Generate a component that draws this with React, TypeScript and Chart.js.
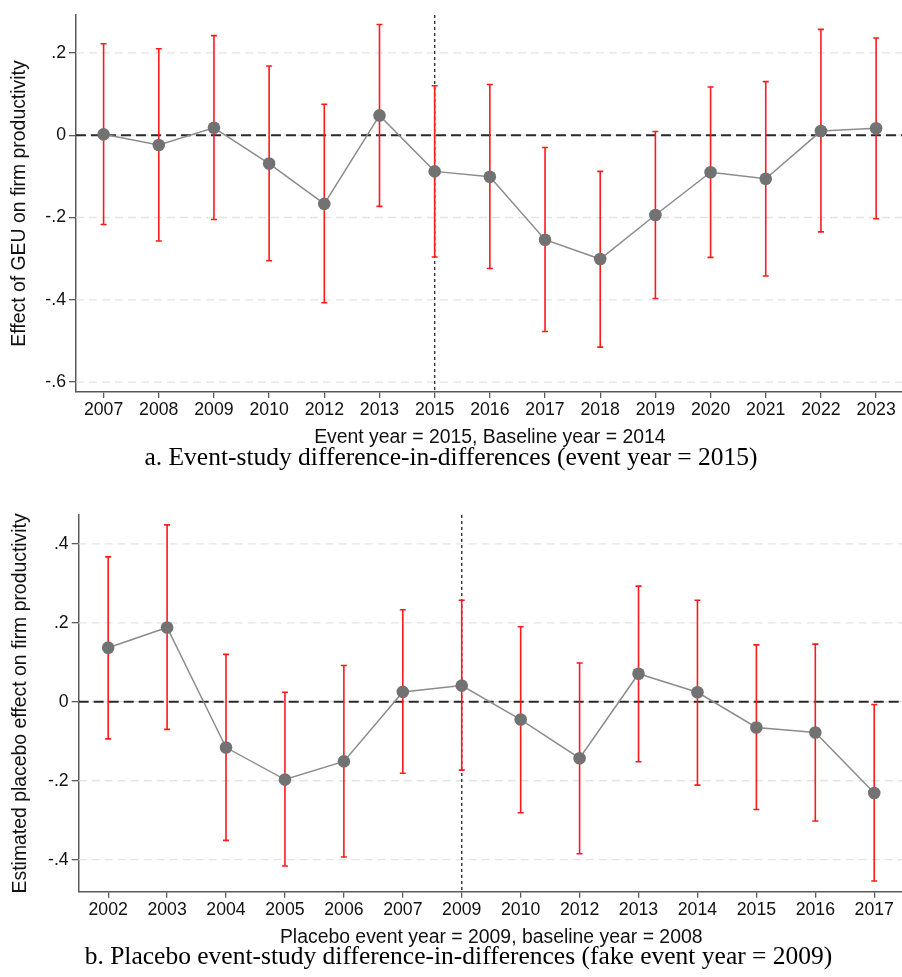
import { useEffect, useRef } from 'react';
import { Chart, registerables } from 'chart.js';

Chart.register(...registerables);

// ---------- Panel a: event study (event year = 2015) ----------
const yearsA = ['2007', '2008', '2009', '2010', '2012', '2013', '2015', '2016', '2017', '2018', '2019', '2020', '2021', '2022', '2023'];
const estA = [0.002, -0.024, 0.018, -0.069, -0.167, 0.048, -0.088, -0.101, -0.254, -0.301, -0.194, -0.090, -0.106, 0.010, 0.017];
const upperA = [0.222, 0.210, 0.242, 0.168, 0.075, 0.269, 0.120, 0.123, -0.030, -0.088, 0.009, 0.117, 0.130, 0.257, 0.236];
const lowerA = [-0.217, -0.257, -0.205, -0.305, -0.407, -0.173, -0.296, -0.324, -0.477, -0.515, -0.397, -0.297, -0.342, -0.235, -0.203];
const yTicksA = [0.2, 0, -0.2, -0.4, -0.6];
const yTickLabelsA = ['.2', '0', '-.2', '-.4', '-.6'];
const eventYearA = '2015';
const yTitleA = 'Effect of GEU on firm productivity';
const xTitleA = 'Event year = 2015, Baseline year = 2014';
const captionA = 'a. Event-study difference-in-differences (event year = 2015)';

// ---------- Panel b: placebo (fake event year = 2009) ----------
const yearsB = ['2002', '2003', '2004', '2005', '2006', '2007', '2009', '2010', '2012', '2013', '2014', '2015', '2016', '2017'];
const estB = [0.137, 0.188, -0.116, -0.197, -0.151, 0.025, 0.041, -0.045, -0.143, 0.071, 0.024, -0.065, -0.078, -0.231];
const upperB = [0.367, 0.448, 0.120, 0.024, 0.092, 0.233, 0.257, 0.190, 0.098, 0.293, 0.257, 0.144, 0.146, -0.007];
const lowerB = [-0.094, -0.070, -0.351, -0.416, -0.393, -0.181, -0.173, -0.281, -0.385, -0.152, -0.211, -0.273, -0.302, -0.454];
const yTicksB = [0.4, 0.2, 0, -0.2, -0.4];
const yTickLabelsB = ['.4', '.2', '0', '-.2', '-.4'];
const eventYearB = '2009';
const yTitleB = 'Estimated placebo effect on firm productivity';
const xTitleB = 'Placebo event year = 2009, baseline year = 2008';
const captionB = 'b. Placebo event-study difference-in-differences (fake event year = 2009)';

const SANS = "'Liberation Sans', Arial, Helvetica, sans-serif";
const SERIF = "'Liberation Serif', 'Times New Roman', Times, serif";

interface PanelSpec {
  years: string[];
  est: number[];
  upper: number[];
  lower: number[];
  yTicks: number[];
  yTickLabels: string[];
  eventYear: string;
  yTitle: string;
  xTitle: string;
  yMin: number;
  yMax: number;
  width: number;
  height: number;
  plotTop: number;
  plotBottom: number;
  plotLeft: number;
  yTitlePad: number;
}

function makeDecor(p: PanelSpec) {
  return {
    id: 'decor',
    beforeDatasetsDraw(chart: any) {
      const { ctx, chartArea } = chart;
      const x = chart.scales.x;
      const y = chart.scales.y;
      ctx.save();
      // light dashed gridlines
      ctx.strokeStyle = '#e4e4e4';
      ctx.lineWidth = 1.3;
      ctx.setLineDash([8, 5]);
      for (const t of p.yTicks) {
        const py = y.getPixelForValue(t);
        ctx.beginPath();
        ctx.moveTo(chartArea.left, py);
        ctx.lineTo(chartArea.right, py);
        ctx.stroke();
      }
      // zero reference line
      const py0 = y.getPixelForValue(0);
      ctx.strokeStyle = '#2a2a2a';
      ctx.lineWidth = 2;
      ctx.setLineDash([10, 5]);
      ctx.beginPath();
      ctx.moveTo(chartArea.left, py0);
      ctx.lineTo(chartArea.right, py0);
      ctx.stroke();
      // vertical event line
      const ev = p.years.indexOf(p.eventYear);
      const px = x.getPixelForValue(ev);
      ctx.strokeStyle = '#333';
      ctx.lineWidth = 1.4;
      ctx.setLineDash([3, 3]);
      ctx.beginPath();
      ctx.moveTo(px, chartArea.top);
      ctx.lineTo(px, chartArea.bottom);
      ctx.stroke();
      // confidence intervals
      ctx.setLineDash([]);
      ctx.strokeStyle = '#ff1a1a';
      ctx.lineWidth = 1.6;
      p.years.forEach((_, i) => {
        const cx = x.getPixelForValue(i);
        const top = y.getPixelForValue(p.upper[i]);
        const bot = y.getPixelForValue(p.lower[i]);
        ctx.beginPath();
        ctx.moveTo(cx, top);
        ctx.lineTo(cx, bot);
        ctx.moveTo(cx - 3, top);
        ctx.lineTo(cx + 3, top);
        ctx.moveTo(cx - 3, bot);
        ctx.lineTo(cx + 3, bot);
        ctx.stroke();
      });
      ctx.restore();
    },
  };
}

function makeChart(canvas: HTMLCanvasElement, p: PanelSpec) {
  const n = p.years.length;
  const xTitleSize = 19.4;
  const xTitleLine = xTitleSize * 1.2;
  const xTitleCenter = p.plotBottom + 46;
  return new Chart(canvas, {
    type: 'line',
    data: {
      datasets: [
        {
          data: p.est.map((v, i) => ({ x: i, y: v })),
          borderColor: '#8c8c8c',
          borderWidth: 1.5,
          pointRadius: 6.3,
          pointHoverRadius: 6.3,
          pointBackgroundColor: '#727272',
          pointBorderColor: '#727272',
          pointBorderWidth: 0,
          tension: 0,
          fill: false,
        },
      ],
    },
    options: {
      responsive: false,
      animation: false,
      events: [],
      layout: { padding: { top: p.plotTop, left: 0, right: 0, bottom: 0 } },
      plugins: { legend: { display: false }, tooltip: { enabled: false } },
      scales: {
        x: {
          type: 'linear',
          min: -0.5,
          max: n - 0.5,
          afterBuildTicks: (s: any) => {
            s.ticks = p.years.map((_, i) => ({ value: i }));
          },
          afterFit: (s: any) => {
            s.height = p.height - p.plotBottom;
          },
          ticks: {
            autoSkip: false,
            maxRotation: 0,
            padding: 1.5,
            color: '#111',
            font: { family: SANS, size: 17.7 },
            callback: (v: any) => p.years[Math.round(v)] ?? '',
          },
          grid: { drawOnChartArea: false, color: '#5a5a5a', tickLength: 6, lineWidth: 1.3 },
          border: { display: true, color: '#5a5a5a', width: 1.5 },
          title: {
            display: true,
            text: p.xTitle,
            color: '#111',
            font: { family: SANS, size: xTitleSize },
            padding: { top: 0, bottom: p.height - xTitleCenter - xTitleLine / 2 },
          },
        },
        y: {
          type: 'linear',
          min: p.yMin,
          max: p.yMax,
          afterBuildTicks: (s: any) => {
            s.ticks = p.yTicks.map((v) => ({ value: v }));
          },
          afterFit: (s: any) => {
            s.width = p.plotLeft;
          },
          ticks: {
            padding: 3,
            color: '#111',
            font: { family: SANS, size: 17.7 },
            callback: (v: any) => {
              const k = p.yTicks.findIndex((t) => Math.abs(t - Number(v)) < 1e-9);
              return k >= 0 ? p.yTickLabels[k] : '';
            },
          },
          grid: { drawOnChartArea: false, color: '#5a5a5a', tickLength: 7, lineWidth: 1.3 },
          border: { display: true, color: '#5a5a5a', width: 1.5 },
          title: {
            display: true,
            text: p.yTitle,
            color: '#111',
            font: { family: SANS, size: 19.4 },
            padding: { top: p.yTitlePad, bottom: 0 },
          },
        },
      },
    },
    plugins: [makeDecor(p)],
  } as any);
}

const panelA: PanelSpec = {
  years: yearsA,
  est: estA,
  upper: upperA,
  lower: lowerA,
  yTicks: yTicksA,
  yTickLabels: yTickLabelsA,
  eventYear: eventYearA,
  yTitle: yTitleA,
  xTitle: xTitleA,
  yMin: -0.624,
  yMax: 0.292,
  width: 910,
  height: 452,
  plotTop: 15,
  plotBottom: 392,
  plotLeft: 76,
  yTitlePad: 7.6,
};

const panelB: PanelSpec = {
  years: yearsB,
  est: estB,
  upper: upperB,
  lower: lowerB,
  yTicks: yTicksB,
  yTickLabels: yTickLabelsB,
  eventYear: eventYearB,
  yTitle: yTitleB,
  xTitle: xTitleB,
  yMin: -0.481,
  yMax: 0.473,
  width: 910,
  height: 458,
  plotTop: 25,
  plotBottom: 401.7,
  plotLeft: 78.7,
  yTitlePad: 9,
};

export default function App() {
  const refA = useRef<HTMLCanvasElement>(null);
  const refB = useRef<HTMLCanvasElement>(null);

  useEffect(() => {
    const a = refA.current ? makeChart(refA.current, panelA) : null;
    const b = refB.current ? makeChart(refB.current, panelB) : null;
    return () => {
      a?.destroy();
      b?.destroy();
    };
  }, []);

  const captionStyle = (top: number, left: number, width: number): React.CSSProperties => ({
    position: 'absolute',
    top,
    left,
    width,
    textAlign: 'center',
    fontFamily: SERIF,
    fontSize: 25.5,
    lineHeight: '30px',
    color: '#000',
    whiteSpace: 'nowrap',
  });

  return (
    <div
      style={{
        position: 'absolute',
        left: 0,
        top: 0,
        width: 902,
        height: 977,
        overflow: 'hidden',
        background: '#fff',
      }}
    >
      <canvas
        ref={refA}
        width={panelA.width}
        height={panelA.height}
        style={{ position: 'absolute', left: 0, top: 0, width: panelA.width, height: panelA.height }}
      />
      <div style={captionStyle(442.4, 0, 902)}>{captionA}</div>
      <canvas
        ref={refB}
        width={panelB.width}
        height={panelB.height}
        style={{ position: 'absolute', left: 0, top: 490, width: panelB.width, height: panelB.height }}
      />
      <div style={captionStyle(941.4, 15, 887)}>{captionB}</div>
    </div>
  );
}
